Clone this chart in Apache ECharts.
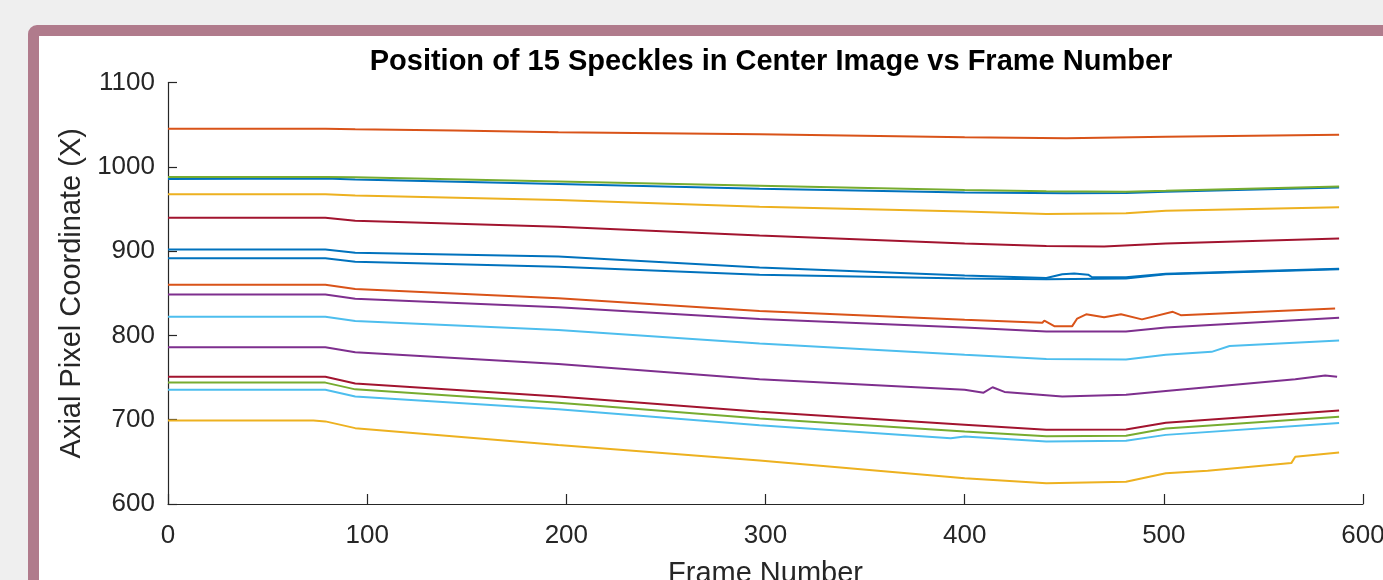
<!DOCTYPE html>
<html>
<head>
<meta charset="utf-8">
<script src="https://cdn.jsdelivr.net/npm/echarts@6/dist/echarts.min.js"></script>
<style>
  html, body { margin: 0; padding: 0; width: 1383px; height: 580px; overflow: hidden; background: #efefef; }
  #frame { position: absolute; left: 28px; top: 25px; width: 1400px; height: 600px; border: 11px solid #b07b8c; border-radius: 9px; background: #ffffff; }
  #chart { position: absolute; left: 0; top: 0; width: 1383px; height: 580px; }
</style>
</head>
<body>
<div id="frame"></div>
<div id="chart"></div>
<script>
// ---- data (frame number, axial pixel coordinate) ----
const titleText = 'Position of 15 Speckles in Center Image vs Frame Number';
const xName = 'Frame Number';
const yName = 'Axial Pixel Coordinate (X)';
const xTicks = [0, 100, 200, 300, 400, 500, 600];
const yTicks = [600, 700, 800, 900, 1000, 1100];

const blueA = [[0,985.5],[79,986],[94,985],[196,979.5],[297,974],[400,969.5],[451,968.5],[481,969],[501,970.5],[588,975.5]];
const orangeA = [[0,1045],[79,1045],[94,1044.5],[144,1043],[196,1041],[297,1038.5],[400,1035],[451,1034],[501,1035.5],[588,1038]];
const yellowA = [[0,967.5],[79,967.5],[94,966],[196,960.5],[297,952.5],[400,947],[441,944],[481,945],[501,948],[588,952]];
const purpleA = [[0,848.5],[79,848.5],[94,843.5],[196,833.5],[297,819.5],[400,809.5],[441,804.5],[481,804.5],[501,809.5],[588,821]];
const greenA = [[0,988],[79,988],[94,987.5],[196,982.5],[297,977.5],[400,972.5],[441,971],[481,970.5],[501,971.5],[588,976.5]];
const lblueA = [[0,822],[79,822],[94,817],[196,806.5],[297,790.5],[400,777],[441,772],[481,771.5],[501,777],[524,780.5],[533,787.5],[588,794]];
const redA = [[0,939.5],[79,939.5],[94,936],[196,929],[297,918.5],[400,909],[441,906],[470,905.5],[501,909],[588,915]];
const blueB = [[0,902],[79,902],[94,898],[196,893.5],[297,880.5],[400,871],[441,868],[449,872.5],[455,873.5],[462,872],[464,869],[481,869],[501,873],[588,879]];
const orangeB = [[0,860],[79,860],[94,855],[196,844],[297,829],[400,818.5],[439,815],[440,817.5],[445,811],[454,811],[456.5,820],[461,825],[470,821.5],[478.5,825],[489,819],[504.5,828],[508.5,824],[586,832]];
const yellowB = [[0,699],[73,699],[79,698],[94,690],[196,670],[297,651.5],[400,630.5],[441,624.5],[481,626.5],[501,636.5],[522,639.5],[564,648.5],[566,656],[588,661]];
const purpleB = [[0,786],[79,786],[94,780],[196,766],[297,748],[400,735.5],[409.5,732],[414,738.5],[420,733],[449,727.5],[481,729.5],[501,734],[566,748],[581,752.5],[587,751]];
const greenB = [[0,744],[79,744],[94,736],[196,720],[297,701.5],[400,686],[441,680.5],[481,681],[501,689.5],[588,703.5]];
const lblueB = [[0,735.5],[79,735.5],[94,727.5],[196,712.5],[297,693.5],[393,678],[400,680],[441,674],[481,675],[501,682],[588,696]];
const redB = [[0,751],[79,751],[94,743],[196,727.5],[297,709.5],[400,694],[441,688],[481,688.5],[501,696.5],[588,711]];
const blueC = [[0,891.5],[79,891.5],[94,887.5],[196,881.5],[297,872],[400,867.5],[441,866.5],[481,867.5],[501,872.5],[588,878.5]];

const seriesData = [blueA, orangeA, yellowA, purpleA, greenA, lblueA, redA,
                    blueB, orangeB, yellowB, purpleB, greenB, lblueB, redB, blueC];
const palette = ['#0072BD','#D95319','#EDB120','#7E2F8E','#77AC30','#4DBEEE','#A2142F'];

const FONT = '"Liberation Sans", Arial, Helvetica, sans-serif';
const AX = '#262626';

const chart = echarts.init(document.getElementById('chart'), null, { renderer: 'canvas' });
chart.setOption({
  animation: false,
  backgroundColor: 'transparent',
  title: {
    text: titleText,
    left: 766, top: 42, textAlign: 'center',
    textStyle: { fontFamily: FONT, fontSize: 29, fontWeight: 'bold', color: '#000' }
  },
  grid: { left: 168, top: 82.5, right: 20, bottom: 76, containLabel: false, outerBoundsMode: 'none' },
  xAxis: {
    type: 'value', min: xTicks[0], max: xTicks[xTicks.length - 1], interval: 100,
    name: xName, nameLocation: 'middle', nameGap: 55,
    nameTextStyle: { fontFamily: FONT, fontSize: 29, color: AX },
    axisLine: { show: true, onZero: false, lineStyle: { color: AX, width: 1.2 } },
    axisTick: { show: true, inside: true, length: 10, lineStyle: { color: AX, width: 1.2 } },
    axisLabel: { fontFamily: FONT, fontSize: 26, color: AX, margin: 19, showMinLabel: true, showMaxLabel: true,
                 formatter: v => String(v) },
    splitLine: { show: false }
  },
  yAxis: {
    type: 'value', min: yTicks[0], max: yTicks[yTicks.length - 1], interval: 100,
    name: yName, nameLocation: 'middle', nameGap: 77, nameRotate: 90,
    nameTextStyle: { fontFamily: FONT, fontSize: 29, color: AX },
    axisLine: { show: true, onZero: false, lineStyle: { color: AX, width: 1.2 } },
    axisTick: { show: true, inside: true, length: 9, lineStyle: { color: AX, width: 1.2 } },
    axisLabel: { fontFamily: FONT, fontSize: 26, color: AX, margin: 13, formatter: v => String(v) },
    splitLine: { show: false }
  },
  series: seriesData.map((d, i) => ({
    type: 'line', data: d, showSymbol: false, symbol: 'none',
    lineStyle: { color: palette[i % 7], width: 2 },
    itemStyle: { color: palette[i % 7] },
    z: 2
  }))
});
</script>
</body>
</html>
